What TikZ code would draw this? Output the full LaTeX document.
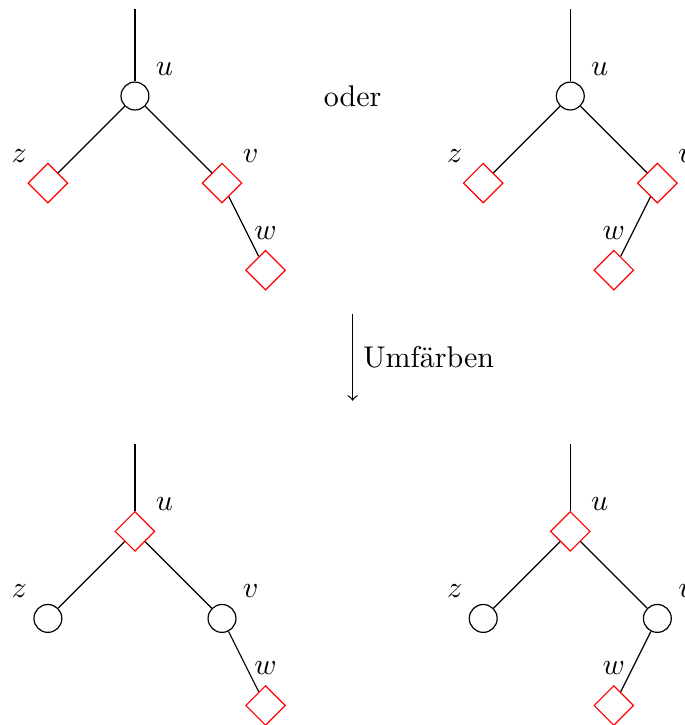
\documentclass[tikz,border=0pt]{standalone}
\usepackage{fontspec}
\usepackage{tikz}
\usetikzlibrary{shapes.geometric, positioning}
\usepackage{xcolor}

\begin{document}
\begin{tikzpicture}[
    x=1.02cm, y=1.02cm,
    black node/.style = {circle, draw=black, fill=white, inner sep=0pt, minimum size=9.3pt},
    red node/.style = {diamond, draw=red, fill=white, inner sep=0pt, minimum size=13.3pt},
    edge/.style = {draw=black}
]

\useasboundingbox (-1.55, 1.103) rectangle (6.317, -7.224);

% Top left: before
\coordinate (t1) at (0, 1);
\node (u1) [black node, label=45:$u$] at (0, 0) {};
\node (z1) [red node, label=135:$z$] at (-1, -1) {};
\node (v1) [red node, label=45:$v$] at (1, -1) {};
\node (w1) [red node, label=above:$w$] at (1.5, -2) {};

% Top right: mirrored child
\coordinate (t2) at (5, 1);
\node (u2) [black node, label=45:$u$] at (5, 0) {};
\node (z2) [red node, label=135:$z$] at (4, -1) {};
\node (v2) [red node, label=45:$v$] at (6, -1) {};
\node (w2) [red node, label=above:$w$] at (5.5, -2) {};

\node (oder) at (2.5, 0) {oder};

% Recolour step
\coordinate (rc_top) at (2.5, -2.5);
\coordinate (rc_bot) at (2.5, -3.5);

% Bottom left: after
\coordinate (t3) at (0, -4);
\node (u3) [red node, label=45:$u$] at (0, -5) {};
\node (z3) [black node, label=135:$z$] at (-1, -6) {};
\node (v3) [black node, label=45:$v$] at (1, -6) {};
\node (w3) [red node, label=above:$w$] at (1.5, -7) {};

% Bottom right: after
\coordinate (t4) at (5, -4);
\node (u4) [red node, label=45:$u$] at (5, -5) {};
\node (z4) [black node, label=135:$z$] at (4, -6) {};
\node (v4) [black node, label=45:$v$] at (6, -6) {};
\node (w4) [red node, label=above:$w$] at (5.5, -7) {};

\draw [edge] (t1) -- (u1);
\draw [edge] (u1) -- (z1);
\draw [edge] (u1) -- (v1);
\draw [edge] (v1) -- (w1);

\draw [edge] (t2) -- (u2);
\draw [edge] (u2) -- (z2);
\draw [edge] (u2) -- (v2);
\draw [edge] (v2) -- (w2);

\draw [->] (rc_top) -- node[right]{Umfärben} (rc_bot);

\draw [edge] (t3) -- (u3);
\draw [edge] (u3) -- (z3);
\draw [edge] (u3) -- (v3);
\draw [edge] (v3) -- (w3);

\draw [edge] (t4) -- (u4);
\draw [edge] (u4) -- (z4);
\draw [edge] (u4) -- (v4);
\draw [edge] (v4) -- (w4);

\end{tikzpicture}
\end{document}
